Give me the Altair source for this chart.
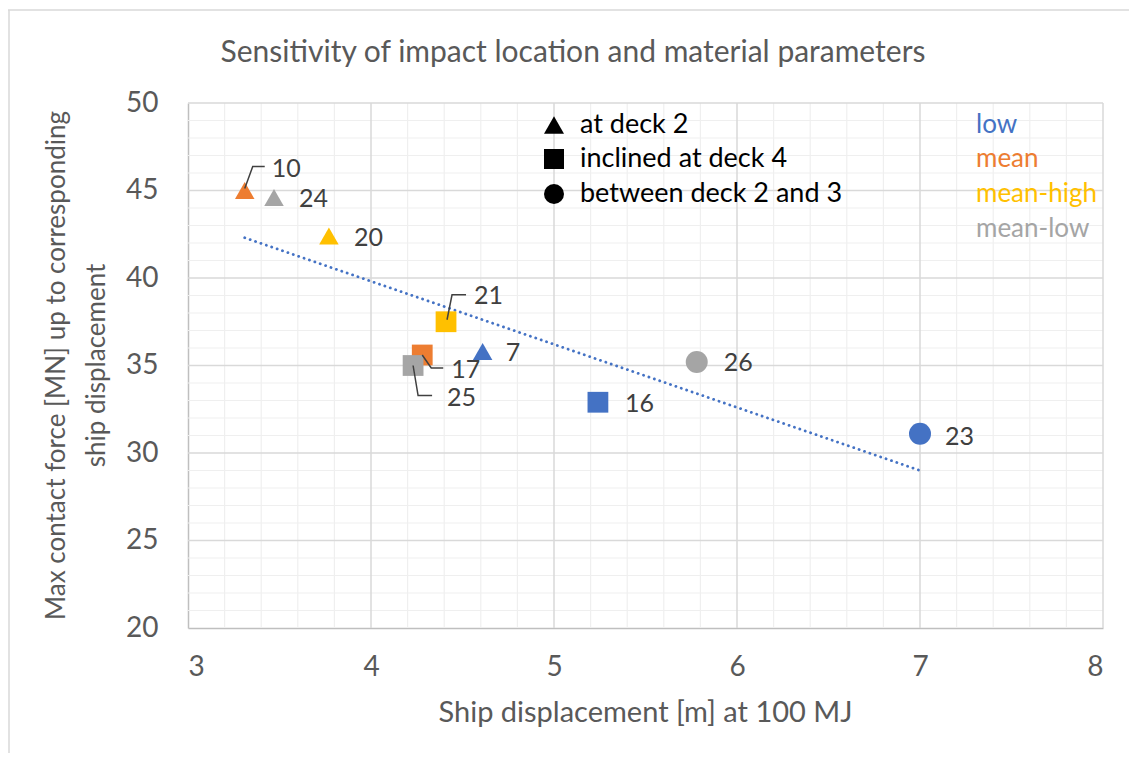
import altair as alt
import pandas as pd

# ---------------- data ----------------
run_id = [10, 24, 20, 21, 17, 25, 7, 16, 26, 23]
displacement = [3.31, 3.47, 3.77, 4.41, 4.28, 4.23, 4.61, 5.24, 5.78, 7.00]
max_force = [45.0, 44.6, 42.4, 37.5, 35.6, 35.0, 35.8, 32.9, 35.2, 31.1]
location = ["at deck 2", "at deck 2", "at deck 2", "inclined at deck 4",
            "inclined at deck 4", "inclined at deck 4", "at deck 2",
            "inclined at deck 4", "between deck 2 and 3", "between deck 2 and 3"]
material = ["mean", "mean-low", "mean-high", "mean-high", "mean", "mean-low",
            "low", "low", "mean-low", "low"]

trend_x = [3.31, 7.00]
trend_y = [42.3, 29.0]

location_levels = ["at deck 2", "inclined at deck 4", "between deck 2 and 3"]
material_levels = ["low", "mean", "mean-high", "mean-low"]

x_ticks = [3, 4, 5, 6, 7, 8]
y_ticks = [20, 25, 30, 35, 40, 45, 50]

title_text = "Sensitivity of impact location and material parameters"
x_title = "Ship displacement [m] at 100 MJ"
y_title_lines = ["Max contact force [MN] up to corresponding", "ship displacement"]

# ---------------- layout / style ----------------
W, H = 915, 525
X0, X1, Y0, Y1 = 3, 8, 20, 50
FONT = "Lato"
material_colors = ["#4472C4", "#ED7D31", "#FFC000", "#A5A5A5"]


def px_x(px):
    return X0 + px / W * (X1 - X0)


def px_y(py):
    return Y1 - py / H * (Y1 - Y0)


kx = W / (X1 - X0)
ky = H / (Y1 - Y0)

label_offsets = {10: (27, -22), 24: (25, 1), 20: (25, 2), 21: (28, -26), 17: (29, 15),
                 25: (34, 32), 7: (23, 1), 16: (27, 2), 26: (27, 1), 23: (25, 3)}
leaders = {10: [(0, -2), (8, -24), (20, -24)],
           21: [(1, -2), (6, -27), (20, -27)],
           17: [(0, 0), (9, 13), (21, 13)],
           25: [(0, 0), (5, 30), (19, 30)]}

pts = pd.DataFrame({"id": run_id, "x": displacement, "y": max_force,
                    "location": location, "material": material})
pts["lx"] = [x + label_offsets[i][0] / kx for i, x in zip(run_id, displacement)]
pts["ly"] = [y - label_offsets[i][1] / ky for i, y in zip(run_id, max_force)]
pts["label"] = [str(i) for i in run_id]

lead_rows = []
for i, segs in leaders.items():
    k = run_id.index(i)
    for s, (dx, dy) in enumerate(segs):
        lead_rows.append({"id": i, "seq": s,
                          "x": displacement[k] + dx / kx,
                          "y": max_force[k] - dy / ky})
lead_df = pd.DataFrame(lead_rows)

trend_df = pd.DataFrame({"x": trend_x, "y": trend_y})

xs = alt.Scale(domain=[X0, X1], nice=False, zero=False)
ys = alt.Scale(domain=[Y0, Y1], nice=False, zero=False)

# grid
minor_x = [round(3 + 0.2 * i, 1) for i in range(1, 25) if i % 5 != 0]
minor_y = [v for v in range(21, 50) if v % 5 != 0]
major_x = [v for v in x_ticks if v != X0]
major_y = [v for v in y_ticks if v != Y0]

grid_minor_x = alt.Chart(pd.DataFrame({"v": minor_x})).mark_rule(
    color="#efefef", strokeWidth=1.2).encode(x=alt.X("v:Q", scale=xs))
grid_minor_y = alt.Chart(pd.DataFrame({"v": minor_y})).mark_rule(
    color="#efefef", strokeWidth=1.2).encode(y=alt.Y("v:Q", scale=ys))
grid_major_x = alt.Chart(pd.DataFrame({"v": major_x})).mark_rule(
    color="#d9d9d9", strokeWidth=1.5).encode(x=alt.X("v:Q", scale=xs))
grid_major_y = alt.Chart(pd.DataFrame({"v": major_y})).mark_rule(
    color="#d9d9d9", strokeWidth=1.5).encode(y=alt.Y("v:Q", scale=ys))

trend = alt.Chart(trend_df).mark_line(
    color="#4472C4", strokeWidth=2.8, strokeDash=[0.1, 5.6], strokeCap="round"
).encode(x=alt.X("x:Q", scale=xs), y=alt.Y("y:Q", scale=ys))

leader_lines = alt.Chart(lead_df).mark_line(color="#404040", strokeWidth=1.5).encode(
    x=alt.X("x:Q", scale=xs), y=alt.Y("y:Q", scale=ys), detail="id:N", order="seq:Q")

points = alt.Chart(pts).mark_point(filled=True, opacity=1).encode(
    x=alt.X("x:Q", scale=xs,
            axis=alt.Axis(values=x_ticks, format="d", title=None, grid=False, ticks=False,
                          labelFontSize=28, labelColor="#595959", labelFont=FONT,
                          labelPadding=25, domainColor="#bfbfbf", domainWidth=1.5)),
    y=alt.Y("y:Q", scale=ys,
            axis=alt.Axis(values=y_ticks, format="d", title=None, grid=False, ticks=False,
                          labelFontSize=28, labelColor="#595959", labelFont=FONT,
                          labelPadding=30, domainColor="#bfbfbf", domainWidth=1.5)),
    shape=alt.Shape("location:N", scale=alt.Scale(domain=location_levels,
                    range=["triangle-up", "square", "circle"]), legend=None),
    size=alt.Size("location:N", scale=alt.Scale(domain=location_levels,
                  range=[380, 484, 484]), legend=None),
    color=alt.Color("material:N", scale=alt.Scale(domain=material_levels,
                    range=material_colors), legend=None),
)

labels = alt.Chart(pts).mark_text(align="left", baseline="middle", fontSize=25,
                                  font=FONT, color="#404040").encode(
    x=alt.X("lx:Q", scale=xs), y=alt.Y("ly:Q", scale=ys), text="label:N")

# in-plot legends
leg_rows_px = [125, 159, 194, 229]
shape_leg = pd.DataFrame({
    "location": location_levels,
    "x": [px_x(366)] * 3,
    "tx": [px_x(392)] * 3,
    "y": [px_y(r - 103) for r in leg_rows_px[:3]],
})
shape_leg_marks = alt.Chart(shape_leg).mark_point(filled=True, opacity=1, color="black",
                                                  size=400).encode(
    x=alt.X("x:Q", scale=xs), y=alt.Y("y:Q", scale=ys),
    shape=alt.Shape("location:N", scale=alt.Scale(domain=location_levels,
                    range=["triangle-up", "square", "circle"]), legend=None))
shape_leg_text = alt.Chart(shape_leg).mark_text(align="left", baseline="middle",
                                                fontSize=27, font=FONT, color="black").encode(
    x=alt.X("tx:Q", scale=xs), y=alt.Y("y:Q", scale=ys), text="location:N")

color_leg = pd.DataFrame({
    "material": material_levels,
    "x": [px_x(788)] * 4,
    "y": [px_y(r - 103) for r in leg_rows_px],
})
color_leg_text = alt.Chart(color_leg).mark_text(align="left", baseline="middle",
                                                fontSize=26, font=FONT).encode(
    x=alt.X("x:Q", scale=xs), y=alt.Y("y:Q", scale=ys), text="material:N",
    color=alt.Color("material:N", scale=alt.Scale(domain=material_levels,
                    range=material_colors), legend=None))

# titles
one = pd.DataFrame({"t": [title_text]})
chart_title = alt.Chart(one).mark_text(fontSize=30, font=FONT, color="#595959",
                                       align="center", baseline="middle").encode(
    x=alt.value(385), y=alt.value(-50), text="t:N")
xt = alt.Chart(pd.DataFrame({"t": [x_title]})).mark_text(
    fontSize=29, font=FONT, color="#595959", align="center", baseline="middle").encode(
    x=alt.value(W / 2), y=alt.value(610), text="t:N")
yt1 = alt.Chart(pd.DataFrame({"t": [y_title_lines[0]]})).mark_text(
    fontSize=26, font=FONT, color="#595959", align="center", baseline="middle",
    angle=270).encode(x=alt.value(-131), y=alt.value(H / 2), text="t:N")
yt2 = alt.Chart(pd.DataFrame({"t": [y_title_lines[1]]})).mark_text(
    fontSize=26, font=FONT, color="#595959", align="center", baseline="middle",
    angle=270).encode(x=alt.value(-91), y=alt.value(H / 2), text="t:N")

# outer chart border (top and left)
border_top = alt.Chart(one).mark_rule(color="#d9d9d9", strokeWidth=1.5).encode(
    x=alt.value(-180), x2=alt.value(W + 40), y=alt.value(-93))
border_left = alt.Chart(one).mark_rule(color="#d9d9d9", strokeWidth=1.5).encode(
    x=alt.value(-179), y=alt.value(-93), y2=alt.value(H + 140))

chart = alt.layer(
    grid_minor_x, grid_minor_y, grid_major_x, grid_major_y,
    trend, points, leader_lines, labels,
    shape_leg_marks, shape_leg_text, color_leg_text,
    chart_title, xt, yt1, yt2, border_top, border_left,
).properties(
    width=W, height=H,
    padding={"left": 180, "top": 95, "right": 26, "bottom": 125},
    autosize=alt.AutoSizeParams(type="none"),
    background="white",
).configure_view(stroke=None)

chart.save("out.html", embed_options={"renderer": "svg", "actions": False})
